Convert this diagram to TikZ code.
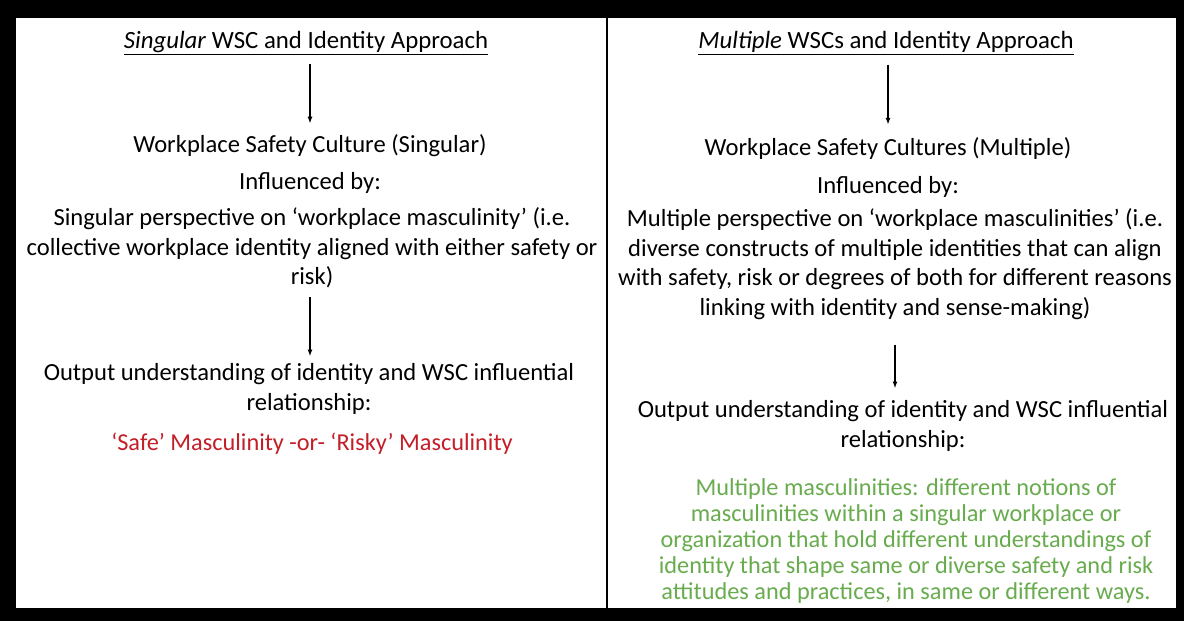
\documentclass[tikz,border=0pt]{standalone}
\usepackage{fontspec}
\setmainfont{Carlito}
\usepackage{xcolor}
\usetikzlibrary{arrows.meta,positioning}
\definecolor{riskred}{RGB}{196,30,40}
\definecolor{multigreen}{RGB}{104,172,78}
\tikzset{%
	heading/.style = {font=\fontsize{24.8}{26}\selectfont, inner sep=0pt},
	body/.style    = {font=\fontsize{24.6}{29.5}\selectfont, align=center, inner sep=0pt},
	outcome/.style = {font=\fontsize{24.6}{29.5}\selectfont, align=center, inner sep=0pt},
	result/.style  = {font=\fontsize{24.3}{26}\selectfont, align=center, inner sep=0pt},
	arrow/.style   = {line width=1.4pt, -{Latex[length=7pt,width=5pt]}},
}

\begin{document}
\begin{tikzpicture}[x=1pt,y=-1pt]
	% frame and divider
	\fill[black] (0,0) rectangle (1184,621);
	\fill[white] (16,18) rectangle (1176,608);
	\draw[line width=1.2pt] (607,18) -- (607,608);
	% singular column
	\node[heading] (sTitle) at (306,43) {\underline{\textit{Singular} WSC and Identity Approach}};
	\node[body] (sWSC) at (310,146) {Workplace Safety Culture (Singular)};
	\node[body] (sInfl) at (310,183) {Influenced by:};
	\node[body] (sPersp) at (312,248) {Singular perspective on `workplace masculinity' (i.e.\\
		collective workplace identity aligned with either safety or\\ risk)};
	\node[outcome] (sOut) at (309,389) {Output understanding of identity and WSC influential\\ relationship:};
	\node[result, text=riskred] (sRes) at (312,444) {`Safe' Masculinity -or- `Risky' Masculinity};
	\draw[arrow, shorten <=9pt, shorten >=11pt] (sTitle.south -| sWSC) -- (sWSC);
	\draw[arrow, shorten <=9pt, shorten >=7pt] (sPersp.south -| sWSC) -- (sOut.north -| sWSC);
	% multiple column
	\node[heading] (mTitle) at (886,43) {\underline{\textit{Multiple} WSCs and Identity Approach}};
	\node[body] (mWSC) at (888,148) {Workplace Safety Cultures (Multiple)};
	\node[body] (mInfl) at (888,187) {Influenced by:};
	\node[body] (mPersp) at (895,264) {Multiple perspective on `workplace masculinities' (i.e.\\
		diverse constructs of multiple identities that can align\\
		with safety, risk or degrees of both for different reasons\\
		linking with identity and sense-making)};
	\node[outcome] (mOut) at (903,426) {Output understanding of identity and WSC influential\\ relationship:};
	\node[result, text=multigreen] (mRes) at (906,541) {Multiple masculinities: different notions of\\
		masculinities within a singular workplace or\\
		organization that hold different understandings of\\
		identity that shape same or diverse safety and risk\\
		attitudes and practices, in same or different ways.};
	\draw[arrow, shorten <=10pt, shorten >=12pt] (mTitle.south -| mWSC) -- (mWSC);
	\draw[arrow, shorten <=25pt, shorten >=12pt] (mPersp) -- (mPersp |- mOut.north);
\end{tikzpicture}
\end{document}
